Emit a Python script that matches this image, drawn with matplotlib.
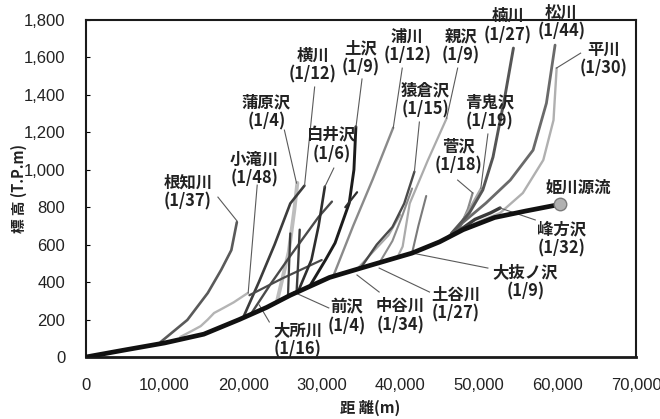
import matplotlib
matplotlib.use("Agg")
import matplotlib.pyplot as plt

# ====== 姫川 本川 ======
main_x = [0, 5000, 10000, 15000, 19500, 23000, 26000, 31000, 35000, 41500, 45000, 48000, 52000, 56000, 60300]
main_y = [0, 38, 75, 122, 200, 265, 330, 425, 475, 555, 615, 680, 745, 780, 815]

# ====== 支川 (距離, 標高) ======
nechi_x = [9500, 12900, 15500, 17200, 18500, 19200]            # 根知川
nechi_y = [80, 198, 342, 465, 571, 720]
kotaki_x = [12000, 13500, 14600, 15500, 16300, 17500, 18800, 20600]  # 小滝川
kotaki_y = [107, 140, 165, 200, 235, 262, 292, 342]
yoko_x = [20000, 22000, 24000, 26000, 27800]                    # 横川
yoko_y = [210, 400, 600, 820, 915]
gama_x = [24300, 25800, 26500, 26900]                           # 蒲原沢
gama_y = [295, 560, 780, 930]
shirai_x = [27000, 28700, 29600, 30400]                         # 白井沢
shirai_y = [350, 520, 700, 910]
tsuchi_x = [28500, 30500, 31700, 33500, 34100, 34350]           # 土沢
tsuchi_y = [380, 520, 609, 822, 1000, 1230]
ura_x = [31500, 34000, 36500, 39100]                            # 浦川
ura_y = [435, 700, 950, 1225]
saru_x = [35000, 37000, 39000, 40500, 41800]                    # 猿倉沢
saru_y = [478, 600, 694, 820, 990]
tsuchiya_x = [37300, 39000, 40300, 41500]                       # 土谷川
tsuchiya_y = [500, 620, 760, 900]
nakaya_x = [34500, 36500, 38500, 40000]                         # 中谷川
nakaya_y = [470, 560, 650, 760]
oya_x = [39600, 40300, 41200, 43500, 45900]                     # 親沢
oya_y = [530, 590, 820, 1050, 1275]
onuke_x = [41500, 42300, 43300]                                 # 大抜ノ沢
onuke_y = [555, 700, 860]
suga_x = [45000, 46300, 47600, 48600, 49200]                    # 菅沢
suga_y = [615, 640, 694, 790, 875]
aoni_x = [46000, 47500, 48800, 50250]                           # 青鬼沢
aoni_y = [640, 700, 790, 900]
kusu_x = [46500, 48800, 50500, 51800, 53300, 54400]             # 楠川
kusu_y = [660, 770, 892, 1068, 1388, 1650]
matsu_x = [46800, 47900, 50900, 54000, 56900, 58600, 59700]     # 松川
matsu_y = [655, 716, 822, 945, 1105, 1356, 1666]
hira_x = [48500, 49600, 52700, 55600, 58200, 59500, 59900]      # 平川
hira_y = [690, 716, 769, 876, 1052, 1265, 1543]
mine_x = [47000, 49500, 51500, 52700]                           # 峰方沢
mine_y = [660, 735, 770, 796]
mae_x = [26800, 27000, 27200]                                   # 前沢
mae_y = [345, 500, 680]
tokoro_x = [21000, 23500, 26000, 29600, 31300]                  # 大所川
tokoro_y = [230, 390, 540, 748, 830]
# 名前なしの細い線
extra1_x = [20800, 25000, 30000]
extra1_y = [330, 420, 518]
extra2_x = [33000, 34500]
extra2_y = [800, 880]
extra3_x = [25700, 26000]
extra3_y = [320, 660]

source_x = 60300
source_y = 815

# ラベル: (名前, 勾配, 文字位置x, y, 引出線の始点, 終点)  引出線なしは None
labels = [
    ("根知川", "1/37", 12950, 881, (16790, 854), (19230, 726)),
    ("小滝川", "1/48", 21410, 1004, (21790, 918), (20640, 342)),
    ("蒲原沢", "1/4", 22950, 1308, (25250, 1212), (26790, 929)),
    ("横川", "1/12", 28850, 1559, (29100, 1442), (27820, 918)),
    ("白井沢", "1/6", 31280, 1132, (31540, 1009), (30380, 908)),
    ("土沢", "1/9", 35000, 1597, (35130, 1485), (34360, 1228)),
    ("浦川", "1/12", 40900, 1661, (40250, 1543), (39100, 1223)),
    ("猿倉沢", "1/15", 43200, 1372, (42430, 1255), (41790, 988)),
    ("親沢", "1/9", 47690, 1661, (47300, 1543), (45900, 1276)),
    ("青鬼沢", "1/19", 51410, 1308, (51150, 1191), (50250, 902)),
    ("菅沢", "1/18", 47430, 1073, (47300, 945), (49230, 876)),
    ("楠川", "1/27", 53720, 1768, None, None),
    ("松川", "1/44", 60510, 1789, None, None),
    ("平川", "1/30", 65900, 1591, (62950, 1623), (59870, 1543)),
    ("峰方沢", "1/32", 60510, 630, (57180, 732), (52690, 796)),
    ("大抜ノ沢", "1/9", 55900, 400, (51150, 475), (41540, 555)),
    ("土谷川", "1/27", 47050, 283, (43720, 347), (37310, 475)),
    ("中谷川", "1/34", 40000, 219, (37310, 347), (34490, 438)),
    ("前沢", "1/4", 33200, 214, (30900, 262), (26410, 347)),
    ("大所川", "1/16", 26920, 91, (23330, 187), (22050, 278)),
]

JP = ["Noto Sans CJK JP", "DejaVu Sans"]
NUM = ["Liberation Sans Narrow", "Liberation Sans", "DejaVu Sans"]


def draw_tribs(ax):
    # (x, y, 色, 線幅)
    tribs = [
        (kotaki_x, kotaki_y, "#b4b4b4", 1.7),
        (nechi_x, nechi_y, "#5a5a5a", 1.9),
        (gama_x, gama_y, "#bdbdbd", 2.8),
        (yoko_x, yoko_y, "#3c3c3c", 1.9),
        (tokoro_x, tokoro_y, "#4a4a4a", 1.7),
        (extra1_x, extra1_y, "#4a4a4a", 1.6),
        (extra3_x, extra3_y, "#3c3c3c", 1.6),
        (mae_x, mae_y, "#3c3c3c", 1.7),
        (shirai_x, shirai_y, "#2e2e2e", 1.9),
        (tsuchi_x, tsuchi_y, "#1c1c1c", 2.1),
        (extra2_x, extra2_y, "#2e2e2e", 1.6),
        (ura_x, ura_y, "#8a8a8a", 1.7),
        (nakaya_x, nakaya_y, "#a8a8a8", 1.5),
        (tsuchiya_x, tsuchiya_y, "#8c8c8c", 1.5),
        (saru_x, saru_y, "#4a4a4a", 1.7),
        (oya_x, oya_y, "#ababab", 1.6),
        (onuke_x, onuke_y, "#7a7a7a", 1.5),
        (suga_x, suga_y, "#8a8a8a", 1.6),
        (aoni_x, aoni_y, "#a5a5a5", 1.6),
        (hira_x, hira_y, "#b0b0b0", 1.7),
        (matsu_x, matsu_y, "#6a6a6a", 2.0),
        (kusu_x, kusu_y, "#555555", 2.1),
        (mine_x, mine_y, "#3a3a3a", 2.4),
    ]
    for x, y, c, lw in tribs:
        ax.plot(x, y, color=c, lw=lw, solid_capstyle="round", zorder=2)


def main():
    fig = plt.figure(figsize=(6.6, 4.19), dpi=100)
    ax = fig.add_axes([86 / 660, 62 / 419, 550 / 660, 337 / 419])

    draw_tribs(ax)
    ax.plot(main_x, main_y, color="#111111", lw=3.4, solid_capstyle="round", zorder=4)
    ax.plot([source_x], [source_y], "o", ms=9, mfc="#b0b0b0", mec="#7a7a7a", mew=1.0, zorder=5)

    for name, grad, tx, ty, p0, p1 in labels:
        ax.text(tx, ty, f"{name}\n({grad})", ha="center", va="center",
                family=JP, fontsize=11.8, fontweight="bold", color="#222222",
                linespacing=1.1, zorder=6, clip_on=False)
        if p0 is not None:
            ax.plot([p0[0], p1[0]], [p0[1], p1[1]], color="#5a5a5a", lw=0.8, zorder=3)

    ax.text(62690, 902, "姫川源流", ha="center", va="center", family=JP,
            fontsize=11.8, fontweight="bold", color="#222222", zorder=6)

    ax.set_xlim(0, 70000)
    ax.set_ylim(0, 1800)
    ax.set_xticks(range(0, 70001, 10000))
    ax.set_yticks(range(0, 1801, 200))
    ax.set_xticklabels([f"{v:,}" for v in range(0, 70001, 10000)])
    ax.set_yticklabels([f"{v:,}" for v in range(0, 1801, 200)])
    ax.tick_params(axis="y", direction="in", length=3, pad=15, labelsize=12)
    ax.tick_params(axis="x", length=0, pad=15, labelsize=12)
    for lab in ax.get_xticklabels() + ax.get_yticklabels():
        lab.set_family(NUM)
        lab.set_color("#222222")

    for side in ["left", "bottom", "top", "right"]:
        ax.spines[side].set_color("#1a1a1a")
        ax.spines[side].set_linewidth(1.5)
    ax.spines["bottom"].set_linewidth(2.0)

    fig.text(19 / 660, 1 - 188 / 419, "標 高 (T.P.m)", rotation=90, ha="center", va="center",
             family=JP, fontsize=10.5, fontweight="bold", color="#222222")
    fig.text(370 / 660, 1 - 408 / 419, "距 離(m)", ha="center", va="center",
             family=JP, fontsize=11, fontweight="bold", color="#222222")

    fig.savefig("out.png", dpi=100)
    plt.close(fig)


if __name__ == "__main__":
    main()
